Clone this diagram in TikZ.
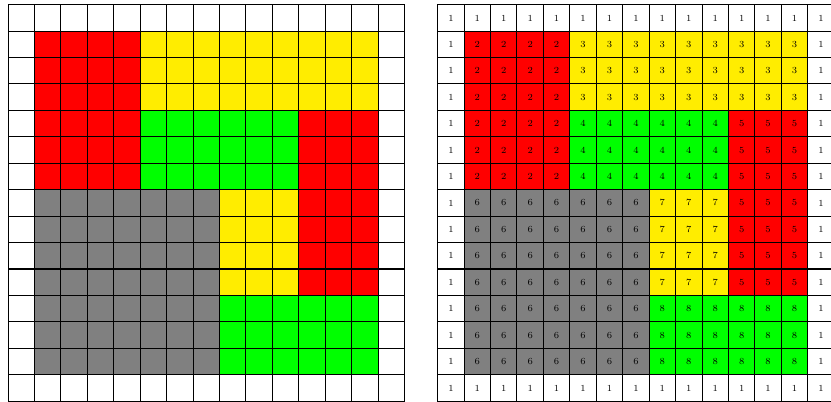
\documentclass[tikz,border=0pt]{standalone}
\definecolor{myyellow}{RGB}{255,237,0}
\colorlet{c1}{white}
\colorlet{c2}{red}
\colorlet{c3}{myyellow}
\colorlet{c4}{green}
\colorlet{c5}{red}
\colorlet{c6}{gray}
\colorlet{c7}{myyellow}
\colorlet{c8}{green}
\begin{document}
\begin{tikzpicture}[x=0.75pt,y=-0.75pt,
  cell/.style={draw=black, line width=0.75pt, minimum size=19.82pt, inner sep=0pt, font=\fontsize{7}{8}\selectfont}]
\useasboundingbox (0,0) rectangle (831,402);
\clip (0,0) rectangle (831,402);
\foreach \vals [count=\r from 0] in {
 {1,1,1,1,1,1,1,1,1,1,1,1,1,1,1},
 {1,2,2,2,2,3,3,3,3,3,3,3,3,3,1},
 {1,2,2,2,2,3,3,3,3,3,3,3,3,3,1},
 {1,2,2,2,2,3,3,3,3,3,3,3,3,3,1},
 {1,2,2,2,2,4,4,4,4,4,4,5,5,5,1},
 {1,2,2,2,2,4,4,4,4,4,4,5,5,5,1},
 {1,2,2,2,2,4,4,4,4,4,4,5,5,5,1},
 {1,6,6,6,6,6,6,6,7,7,7,5,5,5,1},
 {1,6,6,6,6,6,6,6,7,7,7,5,5,5,1},
 {1,6,6,6,6,6,6,6,7,7,7,5,5,5,1},
 {1,6,6,6,6,6,6,6,7,7,7,5,5,5,1},
 {1,6,6,6,6,6,6,6,8,8,8,8,8,8,1},
 {1,6,6,6,6,6,6,6,8,8,8,8,8,8,1},
 {1,6,6,6,6,6,6,6,8,8,8,8,8,8,1},
 {1,1,1,1,1,1,1,1,1,1,1,1,1,1,1}}{
  \foreach \v [count=\c from 0] in \vals {
    \node[cell, fill=c\v] (L-\r-\c) at ({8+26.43*(\c+0.5)},{4.7+26.43*(\r+0.5)}) {};
    \node[cell, fill=c\v] (R-\r-\c) at ({437.7+26.43*(\c+0.5)},{4.7+26.43*(\r+0.5)}) {\v};
  }
}
\end{tikzpicture}
\end{document}
